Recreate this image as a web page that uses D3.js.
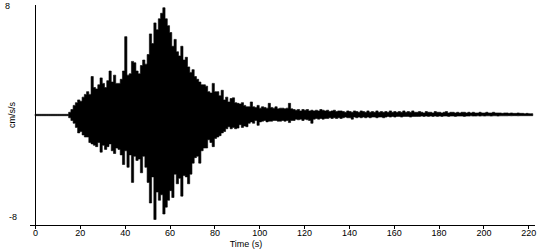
<!DOCTYPE html>
<html>
<head>
<meta charset="utf-8">
<script src="https://cdn.jsdelivr.net/npm/d3@7"></script>
<style>
  body { margin: 0; background: #fff; }
  text { font-family: "Liberation Sans", Arial, sans-serif; font-size: 9px; fill: #000; }
</style>
</head>
<body>
<svg id="chart" width="550" height="250"></svg>
<script>
// tick values
const xTicks = [0, 20, 40, 60, 80, 100, 120, 140, 160, 180, 200, 220]
const yLabels = [8, -8]

// peak acceleration (cm/s/s) read per second of record, t = 0 .. 222 s
const peakUp = [
  0.05, 0.05, 0.05, 0.05, 0.05, 0.05, 0.05, 0.05, 0.05, 0.05,
  0.05, 0.05, 0.05, 0.05, 0.05, 0.2, 0.4, 0.7, 0.9, 1.1,
  1.0, 1.3, 1.5, 1.7, 1.5, 2.8, 2.0, 1.9, 2.2, 2.7,
  2.3, 2.0, 2.5, 3.2, 2.4, 2.9, 2.3, 2.3, 2.6, 3.2,
  5.7, 2.9, 3.0, 3.9, 3.8, 3.2, 3.0, 3.6, 4.0, 3.7,
  4.4, 5.9, 5.2, 6.7, 6.2, 7.0, 7.4, 7.8, 7.0, 6.5,
  6.0, 5.0, 5.5, 4.6, 4.3, 5.0, 4.0, 4.2, 3.5, 3.1,
  3.3, 2.8, 2.6, 2.4, 2.2, 2.2, 2.1, 1.7, 1.6, 2.3,
  1.7, 1.7, 1.4, 1.8, 1.1, 1.3, 0.95, 1.2, 1.25, 0.9,
  0.85, 0.8, 0.9, 0.7, 0.6, 0.6, 0.95, 0.6, 0.55, 0.7,
  0.5, 0.6, 0.55, 0.5, 0.85, 0.55, 0.5, 0.6, 0.45, 0.5,
  0.5, 0.45, 0.5, 0.85, 0.45, 0.4, 0.35, 0.4, 0.3, 0.4,
  0.35, 0.4, 0.3, 0.35, 0.3, 0.35, 0.3, 0.4, 0.35, 0.3,
  0.35, 0.25, 0.3, 0.35, 0.25, 0.3, 0.3, 0.25, 0.2, 0.3,
  0.25, 0.2, 0.3, 0.25, 0.2, 0.3, 0.25, 0.2, 0.3, 0.2,
  0.25, 0.2, 0.3, 0.2, 0.25, 0.2, 0.25, 0.2, 0.3, 0.2,
  0.25, 0.2, 0.25, 0.2, 0.3, 0.2, 0.25, 0.2, 0.3, 0.2,
  0.2, 0.25, 0.2, 0.15, 0.25, 0.2, 0.2, 0.15, 0.25, 0.2,
  0.2, 0.15, 0.2, 0.25, 0.15, 0.2, 0.2, 0.15, 0.2, 0.15,
  0.2, 0.2, 0.15, 0.2, 0.15, 0.2, 0.15, 0.15, 0.2, 0.15,
  0.15, 0.2, 0.15, 0.15, 0.2, 0.15, 0.15, 0.15, 0.12, 0.15,
  0.15, 0.12, 0.15, 0.12, 0.12, 0.15, 0.12, 0.12, 0.1, 0.12,
  0.1, 0.1, 0.1
]
const peakDown = [
  -0.05, -0.05, -0.05, -0.05, -0.05, -0.05, -0.05, -0.05, -0.05, -0.05,
  -0.05, -0.05, -0.05, -0.05, -0.05, -0.2, -0.4, -0.6, -0.9, -1.3,
  -1.2, -1.45, -1.6, -1.6, -2.0, -2.1, -2.2, -2.3, -2.0, -2.7,
  -2.2, -2.5, -2.3, -2.1, -2.6, -2.8, -2.4, -2.5, -2.9, -3.6,
  -2.6, -3.8, -2.9, -4.9, -3.0, -3.3, -3.2, -4.2, -3.0, -3.8,
  -4.9, -6.4, -4.5, -7.6, -5.6, -6.2, -5.8, -7.2, -6.7, -6.2,
  -5.5, -6.0, -4.3, -5.0, -4.6, -5.9, -4.4, -4.5, -5.0, -4.3,
  -3.5, -3.1, -3.0, -3.5, -2.6, -2.4, -2.4, -1.8, -2.0, -2.3,
  -1.7, -1.6, -1.5, -1.3, -1.2, -1.0, -0.85, -1.0, -0.9, -1.0,
  -0.95, -0.7, -0.9, -0.8, -0.85, -0.6, -0.5, -0.6, -0.4, -0.75,
  -0.5, -0.45, -0.4, -0.5, -0.45, -0.45, -0.4, -0.4, -0.45, -0.45,
  -0.4, -0.45, -0.4, -0.55, -0.4, -0.4, -0.3, -0.35, -0.3, -0.4,
  -0.3, -0.35, -0.4, -0.6, -0.3, -0.25, -0.3, -0.25, -0.3, -0.25,
  -0.25, -0.2, -0.25, -0.2, -0.25, -0.2, -0.25, -0.2, -0.15, -0.2,
  -0.2, -0.3, -0.15, -0.2, -0.15, -0.2, -0.15, -0.2, -0.15, -0.2,
  -0.15, -0.15, -0.2, -0.15, -0.15, -0.2, -0.15, -0.1, -0.15, -0.1,
  -0.15, -0.1, -0.1, -0.15, -0.1, -0.1, -0.1, -0.15, -0.1, -0.1,
  -0.1, -0.1, -0.08, -0.1, -0.08, -0.1, -0.08, -0.1, -0.08, -0.1,
  -0.08, -0.1, -0.08, -0.08, -0.1, -0.08, -0.08, -0.1, -0.08, -0.08,
  -0.08, -0.1, -0.08, -0.08, -0.06, -0.08, -0.08, -0.06, -0.08, -0.06,
  -0.08, -0.06, -0.06, -0.08, -0.06, -0.06, -0.08, -0.06, -0.06, -0.06,
  -0.06, -0.05, -0.06, -0.05, -0.05, -0.06, -0.05, -0.05, -0.05, -0.05,
  -0.05, -0.05, -0.05
]

const svg = d3.select("#chart")

const x = d3.scaleLinear().domain([0, 220]).range([35, 528.3])
const y = d3.scaleLinear().domain([-8, 8]).range([225, 5])

const trace = peakUp.map((v, i) => ({ t: i, up: v, down: peakDown[i] }))

// filled band between the lowest and highest value of each second
const band = d3.area()
  .curve(d3.curveStepAfter)
  .x((d) => x(d.t))
  .y0((d) => y(d.down))
  .y1((d) => y(d.up))

svg.append("path")
  .datum(trace)
  .attr("d", band)
  .attr("fill", "#000")
  .attr("stroke", "#000")
  .attr("stroke-width", 0.6)

// x axis
const xAxis = svg.append("g")
  .attr("transform", `translate(0,${y(-8)})`)
  .attr("font-size", null)
  .attr("font-family", null)
  .call(d3.axisBottom(x).tickValues(xTicks).tickSize(4).tickPadding(1))

xAxis.attr("font-size", null).attr("font-family", null)
xAxis.select(".domain").remove()
xAxis.selectAll("line").attr("stroke", "#000").attr("shape-rendering", "crispEdges")

svg.append("line")
  .attr("x1", 30).attr("x2", x(223))
  .attr("y1", y(-8)).attr("y2", y(-8))
  .attr("stroke", "#000")
  .attr("shape-rendering", "crispEdges")

// y axis
svg.append("line")
  .attr("x1", x(0)).attr("x2", x(0))
  .attr("y1", y(8)).attr("y2", y(-8))
  .attr("stroke", "#000")
  .attr("shape-rendering", "crispEdges")

svg.selectAll(".ylab")
  .data(yLabels)
  .enter()
  .append("text")
  .attr("class", "ylab")
  .attr("x", (d) => (d > 0 ? 5 : 9))
  .attr("y", (d) => (d > 0 ? y(d) + 3.5 : y(d) - 5.5))
  .text((d) => d)

svg.append("text")
  .attr("transform", "translate(15,115) rotate(-90)")
  .attr("text-anchor", "middle")
  .text("cm/s/s")

svg.append("text")
  .attr("x", 246)
  .attr("y", 247)
  .attr("text-anchor", "middle")
  .text("Time (s)")
</script>
</body>
</html>
